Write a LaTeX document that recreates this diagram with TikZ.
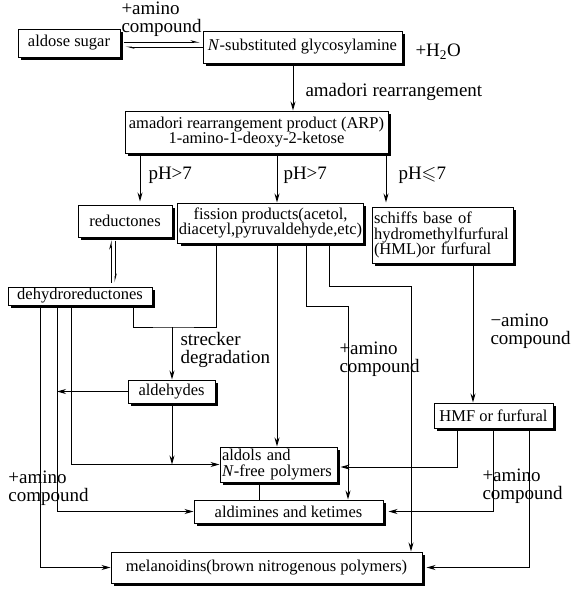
\documentclass[tikz,border=0pt]{standalone}
\usepackage{fontspec}
\setmainfont{Liberation Serif}
\usepackage{amssymb}
\usetikzlibrary{arrows.meta,shadows}

\begin{document}
\begin{tikzpicture}[x=1pt,y=-1pt,line width=1pt,
  box/.style={draw,fill=white,inner sep=1pt,align=center,
    font=\fontsize{16.5}{15.5}\selectfont,
    drop shadow={shadow xshift=3pt,shadow yshift=-3pt,opacity=1,fill=black}},
  lbox/.style={box,align=left,inner sep=2pt},
  lbl/.style={inner sep=0pt,anchor=west,align=left,font=\fontsize{19}{17.5}\selectfont},
  arr/.style={-{Stealth[length=9pt,width=5pt]}},
  harp/.style={-{Stealth[harpoon,length=7pt,width=3.5pt]}}]
\useasboundingbox (0,0) rectangle (573,589);

% boxes
\node[box,minimum width=102pt,minimum height=28pt] (aldose) at (69,43) {aldose sugar};
\node[box,minimum width=199pt,minimum height=32pt] (glyco) at (302.5,47) {\textit{N}-substituted glycosylamine};
\node[box,minimum width=263pt,minimum height=42pt] (arp) at (256.5,132) {amadori rearrangement product (ARP)\\1-amino-1-deoxy-2-ketose};
\node[box,minimum width=94pt,minimum height=32pt] (reductones) at (125,221) {reductones};
\node[box,minimum width=185pt,minimum height=40pt] (fission) at (270.5,223) {fission products(acetol,\\diacetyl,pyruvaldehyde,etc)};
\node[lbox,text width=137pt,minimum height=56pt] (schiffs) at (442.5,235) {schiffs base of\\hydromethylfurfural\\(HML)or furfural};
\node[box,minimum width=144pt,minimum height=18pt,inner sep=0pt] (dehydro) at (80,296) {dehydroreductones};
\node[box,minimum width=87pt,minimum height=23pt] (aldehydes) at (171.5,391.5) {aldehydes};
\node[box,minimum width=119pt,minimum height=25pt] (hmf) at (493.5,415.5) {HMF or furfural};
\node[lbox,text width=113pt,minimum height=35pt] (aldols) at (278.5,464.5) {aldols and\\\textit{N}-free polymers};
\node[box,minimum width=189pt,minimum height=23pt] (aldimines) at (288.5,511.5) {aldimines and ketimes};
\node[box,minimum width=311pt,minimum height=31pt] (melanoidins) at (266.5,567.5) {melanoidins(brown nitrogenous polymers)};

% labels
\node[lbl] (amino1) at (121,19) {+amino\\compound};
\node[lbl] (water) at (415,52) {+H\textsubscript{2}O};
\node[lbl] (rearr) at (305,92) {amadori rearrangement};
\node[lbl] (ph1) at (148,175) {pH>7};
\node[lbl] (ph2) at (283,175) {pH>7};
\node[lbl] (ph3) at (398,175) {pH$\leqslant$7};
\node[lbl] (strecker) at (180,350) {strecker\\degradation};
\node[lbl] (amino2) at (339,359) {+amino\\compound};
\node[lbl] (minus) at (490,331) {−amino\\compound};
\node[lbl] (amino3) at (482,486) {+amino\\compound};
\node[lbl] (amino4) at (8,488) {+amino\\compound};

% equilibria
\draw[harp,shorten <=3pt,shorten >=3pt] (aldose.east |- 0,42) -- (glyco.west |- 0,42);
\draw[harp,shorten >=5pt] (glyco.west |- 0,47) -- (aldose.east |- 0,47);
\draw[harp,shorten <=4pt,shorten >=3pt] (dehydro.north -| 111,0) -- (reductones.south -| 111,0);
\draw[harp,shorten <=3pt,shorten >=4pt] (reductones.south -| 115,0) -- (dehydro.north -| 115,0);

% main chain
\draw[arr] (glyco.south -| 293,0) -- (arp.north -| 293,0);
\draw[arr,shorten >=3pt] (arp.south -| 140,0) -- (reductones.north -| 140,0);
\draw[arr] (arp.south -| 277,0) -- (fission.north -| 277,0);
\draw[arr,shorten >=4pt] (arp.south -| 386,0) -- (schiffs.north -| 386,0);

% dehydroreductones
\coordinate (strk) at (172,327);
\draw[arr] (dehydro.south -| 40,0) |- (melanoidins.west);
\draw[arr] (dehydro.south -| 57,0) |- (aldimines.west);
\draw[arr] (dehydro.south -| 71,0) |- (aldols.west);
\draw (dehydro.south -| 133,0) |- (strk) -| (fission.south -| 216,0);
\draw[arr] (strk) -- (aldehydes.north -| strk);
\draw[arr] (aldehydes.west) -- (aldehydes.west -| 57,0);
\draw[arr] (aldehydes.south -| strk) -- (aldols.west -| strk);

% fission products
\draw[arr] (fission.south -| 277,0) -- (aldols.north -| 277,0);
\draw[arr] (fission.south -| 306,0) -- ++(0,63) -| (aldimines.north -| 348,0);
\draw[arr] (fission.south -| 329,0) -- ++(0,43) -| (melanoidins.north -| 411,0);
\draw (aldols.south -| 259,0) -- (aldimines.north -| 259,0);

% furfural
\draw[arr] (schiffs.south -| 473,0) -- (hmf.north -| 473,0);
\draw[arr,shorten >=3pt] (hmf.south -| 457,0) |- (aldols.east |- 0,467);
\draw[arr,shorten >=5pt] (hmf.south -| 493,0) |- (aldimines.east);
\draw[arr,shorten >=4pt] (hmf.south -| 529,0) |- (melanoidins.east);
\end{tikzpicture}
\end{document}
